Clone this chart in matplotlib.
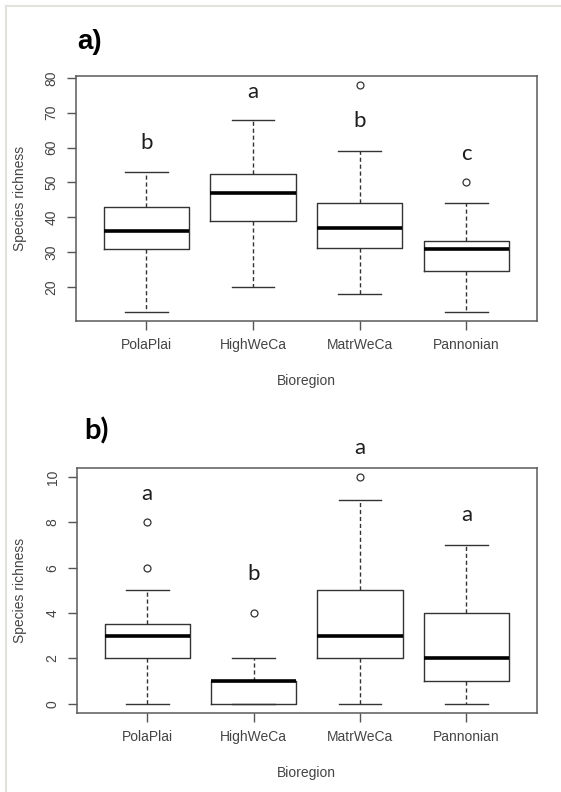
import numpy as np
import matplotlib
matplotlib.use("Agg")
import matplotlib.pyplot as plt
from matplotlib.lines import Line2D

# bioregions on the x axis
regions = ["PolaPlai", "HighWeCa", "MatrWeCa", "Pannonian"]

# panel a) five-number summaries
a_low = [13, 20, 18, 13]
a_q1 = [31, 39, 31.3, 24.5]
a_med = [36, 47, 37, 31]
a_q3 = [43, 52.4, 44, 33.2]
a_high = [53, 68, 59, 44]
a_out = [[], [], [78], [50]]
a_letters = ["b", "a", "b", "c"]
a_letter_y = [61.2, 75.8, 67.7, 58.3]
a_yticks = [20, 30, 40, 50, 60, 70, 80]

# panel b)
b_low = [0, 0, 0, 0]
b_q1 = [2, 0, 2, 1]
b_med = [3, 1, 3, 2]
b_q3 = [3.5, 1, 5, 4]
b_high = [5, 2, 9, 7]
b_out = [[6, 8], [4], [10], []]
b_letters = ["a", "b", "a", "a"]
b_letter_y = [9.26, 5.7, 11.3, 8.32]
b_yticks = [0, 2, 4, 6, 8, 10]

GREY = "#333333"
TXT = "#444444"
tickfont = "Liberation Sans"


def panel(ax, low, q1, med, q3, high, out, letters, letter_y, yticks, ylim):
    stats = []
    for i in range(len(regions)):
        stats.append(dict(whislo=low[i], q1=q1[i], med=med[i], q3=q3[i],
                          whishi=high[i], fliers=out[i], label=regions[i]))
    pos = np.arange(1, len(regions) + 1)
    ax.bxp(stats, positions=pos, widths=0.8, capwidths=0.4,
           boxprops=dict(color=GREY, lw=1.0),
           whiskerprops=dict(color=GREY, lw=1.0, linestyle=(0, (3, 2))),
           capprops=dict(color=GREY, lw=1.0),
           medianprops=dict(color="black", lw=2.6, solid_capstyle="butt"),
           flierprops=dict(marker="o", mfc="none", mec=GREY, ms=5, mew=0.9))
    ax.set_xlim(0.34, 4.66)
    ax.set_ylim(*ylim)
    ax.set_xticks(pos)
    ax.set_xticklabels(regions, fontfamily=tickfont, fontsize=10, color=TXT)
    ax.set_yticks(yticks)
    ax.set_yticklabels([str(t) for t in yticks], fontfamily=tickfont, fontsize=10,
                       color=TXT, rotation=90, va="center")
    ax.tick_params(axis="both", length=6.5, width=1.0, color="#555555", pad=6)
    for s in ax.spines.values():
        s.set_color("#5a5a5a")
        s.set_linewidth(1.1)
    for i in range(len(regions)):
        ax.text(pos[i], letter_y[i], letters[i], ha="center", va="center",
                fontfamily="Lato", fontsize=16, color="#1e1e1e", clip_on=False)
    ax.set_xlabel("Bioregion", fontfamily=tickfont, fontsize=10, color=TXT)
    ax.set_ylabel("Species richness", fontfamily=tickfont, fontsize=10, color=TXT)


fig = plt.figure(figsize=(5.61, 7.92), dpi=100)
W, H = 561.0, 792.0

ax1 = fig.add_axes([76 / W, 1 - 320.7 / H, 460.7 / W, 245 / H])
panel(ax1, a_low, a_q1, a_med, a_q3, a_high, a_out, a_letters, a_letter_y,
      a_yticks, (10.4, 80.6))
ax1.xaxis.set_label_coords(0.5, (320.7 - 381) / 245)
ax1.xaxis.label.set_va("center")
ax1.yaxis.set_label_coords((19.7 - 76) / 460.7, 0.5)
ax1.yaxis.label.set_va("center")

ax2 = fig.add_axes([77 / W, 1 - 712.7 / H, 459.7 / W, 244.7 / H])
panel(ax2, b_low, b_q1, b_med, b_q3, b_high, b_out, b_letters, b_letter_y,
      b_yticks, (-0.4, 10.4))
ax2.xaxis.set_label_coords(0.5, (712.7 - 773.3) / 244.7)
ax2.xaxis.label.set_va("center")
ax2.yaxis.set_label_coords((19.7 - 77) / 459.7, 0.5)
ax2.yaxis.label.set_va("center")

fig.text(77 / W, 1 - 42 / H, "a)", fontfamily="Liberation Sans", fontweight="bold",
         fontsize=20, va="center", ha="left")
fig.text(84 / W, 1 - 431 / H, "b)", fontfamily="Lato", fontweight="bold",
         fontsize=21, va="center", ha="left")

# faint frame lines at the top and left edge of the picture
fig.add_artist(Line2D([6 / W, 1], [1 - 6 / H, 1 - 6 / H], color="#e2e2dc", lw=1.5))
fig.add_artist(Line2D([6 / W, 6 / W], [0, 1 - 6 / H], color="#e2e2dc", lw=1.5))

fig.savefig("out.png", dpi=100)
